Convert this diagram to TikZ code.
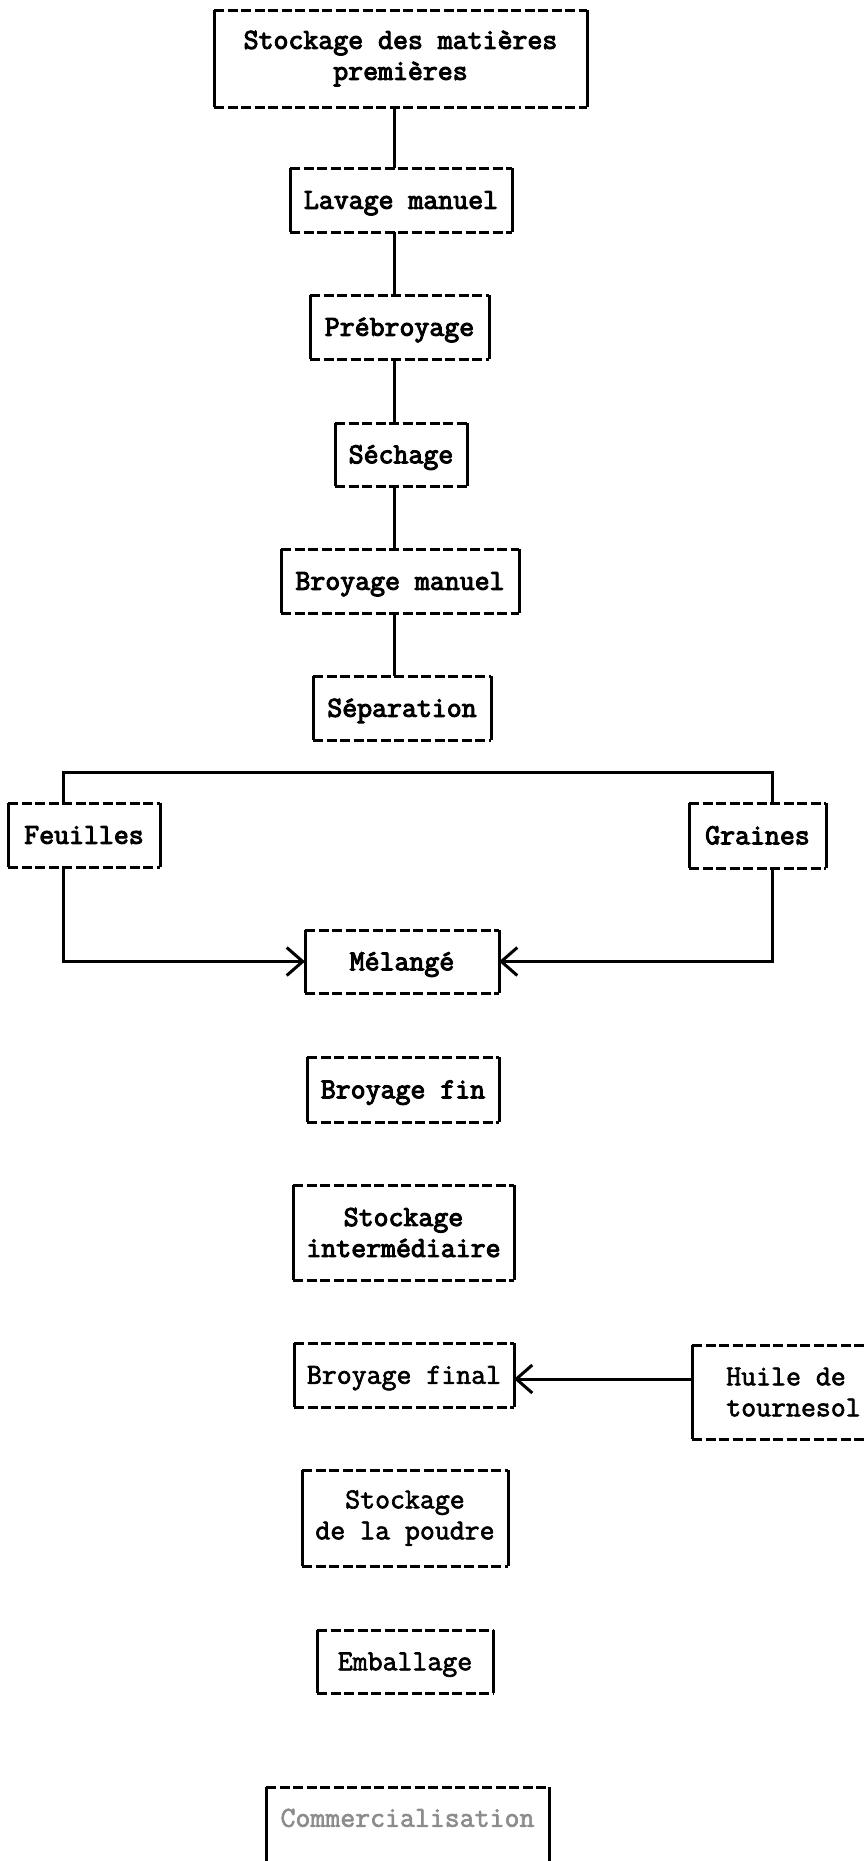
\documentclass[tikz,border=0pt]{standalone}
\usepackage{fontspec}
\usetikzlibrary{arrows.meta}
\newfontfamily\twreg{Latin Modern Mono}[FakeBold=2.2]
\newfontfamily\twbold{Latin Modern Mono}[FakeBold=3.6]

\tikzset{
  boxdash/.style={line width=3pt, dash pattern=on 10pt off 3.5pt},
  boxside/.style={line width=3pt},
  stepbox/.style={inner sep=0pt, outer sep=0pt, align=center,
    font=\twbold\fontsize{29}{31}\selectfont},
  lightbox/.style={stepbox, font=\twreg\fontsize{29}{31}\selectfont},
  oneline/.style={text height=17.5pt, text depth=0pt},
  conn/.style={line width=3pt},
  tip/.style={-{Straight Barb[length=16pt,width=28pt]}},
}

% dashed top and bottom edges, solid sides
\newcommand\drawstepbox[1]{%
  \draw[boxdash] (#1.north west) -- (#1.north east);
  \draw[boxdash] (#1.south west) -- (#1.south east);
  \draw[boxside] (#1.north west) -- (#1.south west);
  \draw[boxside] (#1.north east) -- (#1.south east);
}

\begin{document}
\begin{tikzpicture}[x=1pt, y=-1pt]
  \useasboundingbox (0,0) rectangle (866,1861);
  \clip (0,0) rectangle (866,1861);
  \fill[white] (0,0) rectangle (866,1861);

  % main chain
  \node[stepbox, minimum width=373pt, minimum height=97pt] (s1) at (400.5,58.5) {Stockage des matières\\premières};
  \node[stepbox, oneline, minimum width=222pt, minimum height=64pt] (lav) at (401,200) {Lavage manuel};
  \node[stepbox, oneline, minimum width=179pt, minimum height=64pt] (preb) at (399.5,327) {Prébroyage};
  \node[stepbox, oneline, minimum width=132pt, minimum height=63pt] (sech) at (401,454.5) {Séchage};
  \node[stepbox, oneline, minimum width=238pt, minimum height=64pt] (broym) at (400,581) {Broyage manuel};
  \node[stepbox, oneline, minimum width=178pt, minimum height=64pt] (sep) at (402,708) {Séparation};

  % split
  \node[stepbox, oneline, minimum width=152pt, minimum height=64pt] (feu) at (84,835) {Feuilles};
  \node[stepbox, oneline, minimum width=137pt, minimum height=65pt] (gra) at (757.5,835.5) {Graines};
  \node[stepbox, oneline, minimum width=194pt, minimum height=63pt] (mel) at (402,961.5) {Mélangé};

  \node[stepbox, oneline, minimum width=192pt, minimum height=65pt] (bfin) at (403,1089.5) {Broyage fin};
  \node[stepbox, minimum width=221pt, minimum height=95pt] (sint) at (403.5,1232.5) {Stockage\\intermédiaire};
  \node[lightbox, oneline, minimum width=220pt, minimum height=64pt] (bfinal) at (404,1375) {Broyage final};
  \node[lightbox, minimum width=203pt, minimum height=94pt, align=left] (huile) at (793.5,1392) {Huile de\\tournesol};
  \node[lightbox, minimum width=206pt, minimum height=96pt] (spoud) at (405,1518) {Stockage\\de la poudre};
  \node[lightbox, oneline, minimum width=176pt, minimum height=63pt] (emb) at (405,1661.5) {Emballage};

  \foreach \n in {s1,lav,preb,sech,broym,sep,feu,gra,mel,bfin,sint,bfinal,huile,spoud,emb}
    {\drawstepbox{\n}}

  % last box, open at the foot of the page
  \node[lightbox, oneline, text=black!45] (comm) at (407.5,1818) {Commercialisation};
  \draw[boxdash] (266,1787) -- (549,1787);
  \draw[boxside] (266,1787) -- (266,1875);
  \draw[boxside] (549,1787) -- (549,1875);

  % connectors
  \coordinate (spine) at (394,0);
  \draw[conn] (s1.south -| spine) -- (lav.north -| spine);
  \draw[conn] (lav.south -| spine) -- (preb.north -| spine);
  \draw[conn] (preb.south -| spine) -- (sech.north -| spine);
  \draw[conn] (sech.south -| spine) -- (broym.north -| spine);
  \draw[conn] (broym.south -| spine) -- (sep.north -| spine);

  \coordinate (lx) at (63,0);
  \coordinate (rx) at (772,0);
  \coordinate (bar) at (0,772);
  \draw[conn] (feu.north -| lx) -- (lx |- bar) -- (rx |- bar) -- (gra.north -| rx);
  \draw[conn, tip] (feu.south -| lx) |- (mel.west);
  \draw[conn, tip] (gra.south -| rx) |- (mel.east);

  \coordinate (oil) at (0,1379);
  \draw[conn, tip] (huile.west |- oil) -- (bfinal.east |- oil);
\end{tikzpicture}
\end{document}
